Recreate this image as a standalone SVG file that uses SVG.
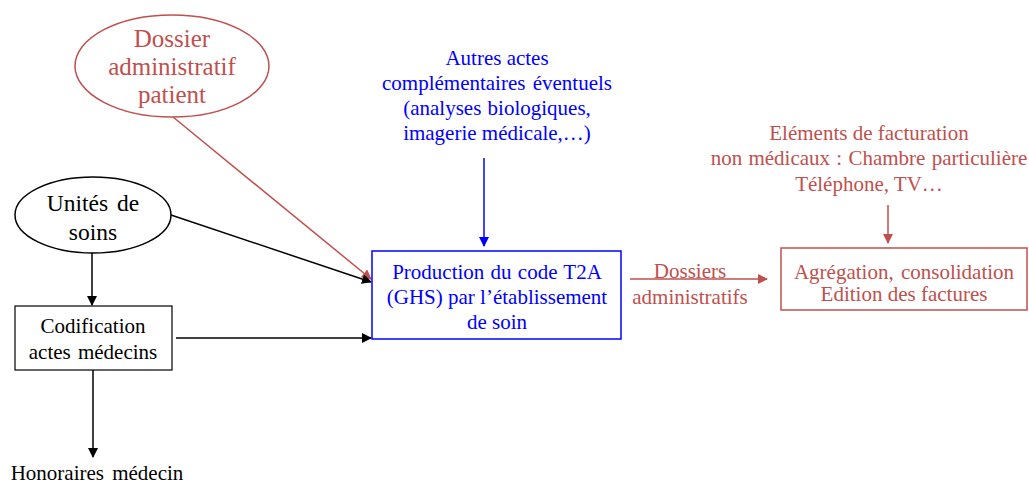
<svg xmlns="http://www.w3.org/2000/svg" width="1029" height="485" viewBox="0 0 1029 485">
<style>
text{font-family:"Liberation Serif","Times New Roman",serif;font-size:21px;text-anchor:middle}
.r{fill:#C0504D}.b{fill:#0000FF}.k{fill:#000}
.big{font-size:25px}
.mid{font-size:23.5px}
</style>
<defs>
<marker id="ak" markerWidth="10" markerHeight="10" refX="9" refY="5" orient="auto" markerUnits="userSpaceOnUse"><path d="M0,0 L10,5 L0,10 z" fill="#000"/></marker>
<marker id="ar" markerWidth="10" markerHeight="10" refX="9" refY="5" orient="auto" markerUnits="userSpaceOnUse"><path d="M0,0 L10,5 L0,10 z" fill="#C0504D"/></marker>
<marker id="ab" markerWidth="10" markerHeight="10" refX="9" refY="5" orient="auto" markerUnits="userSpaceOnUse"><path d="M0,0 L10,5 L0,10 z" fill="#0000FF"/></marker>
</defs>
<rect width="1029" height="485" fill="#fff"/>
<g id="connectors" fill="none" stroke-width="1.5">
<line x1="173" y1="117" x2="371" y2="279" stroke="#C0504D" marker-end="url(#ar)"/>
<line x1="171" y1="215" x2="371" y2="282" stroke="#000" marker-end="url(#ak)"/>
<line x1="92" y1="252" x2="92" y2="305" stroke="#000" marker-end="url(#ak)"/>
<line x1="176" y1="338" x2="371" y2="338" stroke="#000" marker-end="url(#ak)"/>
<line x1="93" y1="370" x2="93" y2="457" stroke="#000" marker-end="url(#ak)"/>
<line x1="484" y1="158" x2="484" y2="246" stroke="#0000FF" marker-end="url(#ab)"/>
<line x1="630" y1="279" x2="767" y2="279" stroke="#C0504D" marker-end="url(#ar)"/>
<line x1="888" y1="205" x2="888" y2="243" stroke="#C0504D" marker-end="url(#ar)"/>
</g>
<g id="dossier">
<ellipse cx="172" cy="66" rx="97" ry="51" fill="#fff" stroke="#C0504D" stroke-width="1.5"/>
<text class="r big" x="172" y="47">Dossier</text>
<text class="r big" x="172" y="75">administratif</text>
<text class="r big" x="172" y="103">patient</text>
</g>
<g id="unites">
<ellipse cx="93" cy="215" rx="78" ry="38" fill="#fff" stroke="#000" stroke-width="1.5"/>
<text class="k mid" x="93" y="211" word-spacing="3">Unités de</text>
<text class="k mid" x="93" y="240">soins</text>
</g>
<g id="codification">
<rect x="15" y="306" width="157" height="64" fill="#fff" stroke="#000" stroke-width="1.2"/>
<text class="k" x="93" y="333">Codification</text>
<text class="k" x="93" y="359" word-spacing="2">actes médecins</text>
</g>
<g id="honoraires">
<text class="k" x="97" y="480" word-spacing="3">Honoraires médecin</text>
</g>
<g id="autres">
<text class="b" x="497" y="65">Autres actes</text>
<text class="b" x="497" y="90" word-spacing="2">complémentaires éventuels</text>
<text class="b" x="497" y="115" word-spacing="1">(analyses biologiques,</text>
<text class="b" x="497" y="140">imagerie médicale,…)</text>
</g>
<g id="production">
<rect x="372" y="251" width="249" height="88" fill="#fff" stroke="#0000FF" stroke-width="1.5"/>
<text class="b" x="497" y="279" word-spacing="1">Production du code T2A</text>
<text class="b" x="497" y="304">(GHS) par l’établissement</text>
<text class="b" x="497" y="329">de soin</text>
</g>
<g id="dossiers-label">
<text class="r" x="690" y="278">Dossiers</text>
<text class="r" x="690" y="304">administratifs</text>
</g>
<g id="elements">
<text class="r" x="869" y="140">Eléments de facturation</text>
<text class="r" x="869" y="165" word-spacing="1">non médicaux : Chambre particulière</text>
<text class="r" x="869" y="191">Téléphone, TV…</text>
</g>
<g id="agregation">
<rect x="781" y="248" width="246" height="62" fill="#fff" stroke="#C0504D" stroke-width="1.5"/>
<text class="r" x="904" y="279" word-spacing="2">Agrégation, consolidation</text>
<text class="r" x="904" y="301">Edition des factures</text>
</g>
</svg>
